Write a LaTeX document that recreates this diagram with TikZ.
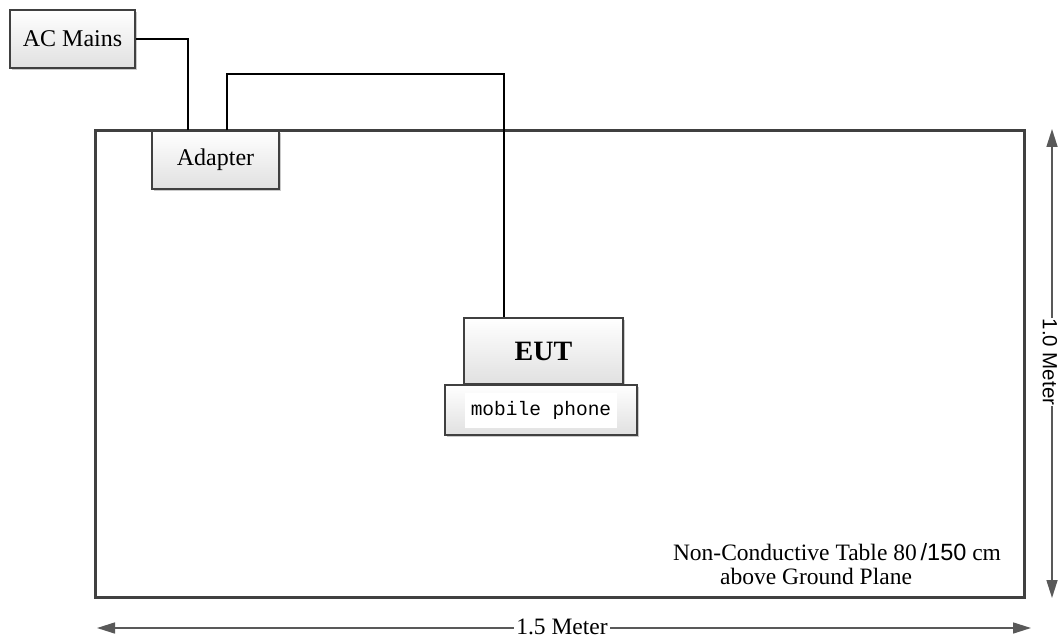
\documentclass[tikz,border=0pt]{standalone}
\usepackage{fontspec}
\setmainfont{Liberation Serif}
\setsansfont{Liberation Sans}
\setmonofont{Liberation Mono}
\usetikzlibrary{arrows.meta,shadows,calc}
\begin{document}
\begin{tikzpicture}[x=1pt,y=-1pt,
  box/.style={draw=black!75, line width=1.3pt, top color=white, bottom color=black!12,
    drop shadow={shadow xshift=2pt, shadow yshift=-2pt, fill=black!35, opacity=0.6},
    inner sep=0pt, font=\fontsize{24}{26}\selectfont},
  wire/.style={draw=black, line width=1.8pt},
  dimarrow/.style={draw=black!65, line width=1.6pt, {Triangle[length=18pt,width=11pt]}-{Triangle[length=18pt,width=11pt]}},
  dimlabel/.style={fill=white, inner sep=2pt}
]
\useasboundingbox (0,0) rectangle (1059,639);
% table
\node[draw=black!75, line width=3pt, minimum width=929pt, minimum height=466pt, inner sep=0pt] (table) at (559.5,364) {};
% boxes
\node[box, minimum width=125pt, minimum height=58pt] (ac) at (72.5,39) {AC Mains};
\node[box, minimum width=127pt, minimum height=58pt] (adapter) at (215.5,160) {Adapter};
\node[box, minimum width=159pt, minimum height=66pt, font=\bfseries\fontsize{28}{30}\selectfont] (eut) at (543.5,351) {EUT};
\node[box, minimum width=192pt, minimum height=50pt, line width=1.6pt] (phone) at (541,410) {};
\node[fill=white, minimum width=152pt, minimum height=35pt, inner sep=0pt, font=\ttfamily\fontsize{19.5}{22}\selectfont] (phonetext) at (541,410.5) {mobile phone};
% wires
\coordinate (acdrop) at ([xshift=37pt]adapter.north west);
\coordinate (adup) at ([xshift=76pt]adapter.north west);
\coordinate (eutin) at ([xshift=41pt]eut.north west);
\coordinate (toprun) at (0,74);
\draw[wire] (ac.east) -| (acdrop);
\draw[wire] (adup) -- (adup |- toprun) -| (eutin);
% table caption
\node[font=\fontsize{23.5}{26}\selectfont, anchor=base] (cap1) at (837,560) {Non-Conductive Table 80\,{\sffamily/150} cm};
\node[font=\fontsize{23.5}{26}\selectfont, anchor=base] (cap2) at (816,584) {above Ground Plane};
% dimensions
\coordinate (bl) at (97,628);
\coordinate (br) at (1031,628);
\coordinate (vt) at (1052,129);
\coordinate (vb) at (1052,598);
\draw[dimarrow] (bl) -- (br);
\node[dimlabel, font=\fontsize{23.5}{26}\selectfont] (hlab) at (562,627) {1.5 Meter};
\draw[dimarrow] (vt) -- (vb);
\node[dimlabel, rotate=-90, inner sep=1pt, font=\sffamily\fontsize{20.5}{22}\selectfont] (vlab) at (1050,362) {1.0 Meter};
\end{tikzpicture}
\end{document}
